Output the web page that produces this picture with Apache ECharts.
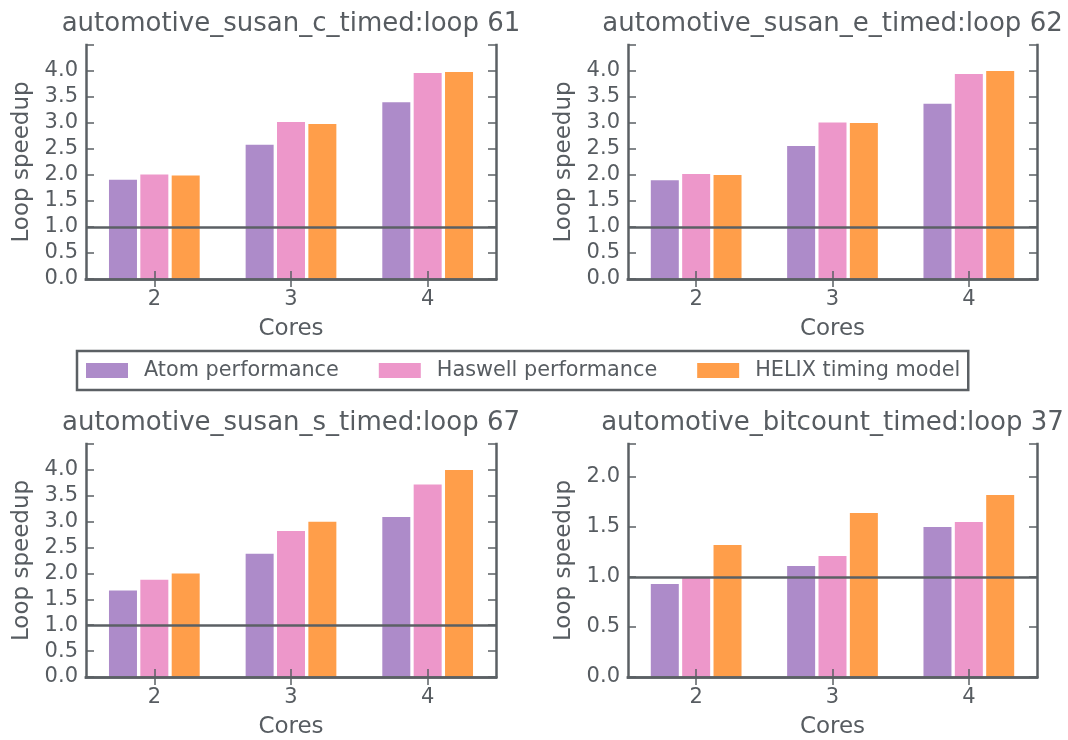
<!DOCTYPE html>
<html>
<head>
<meta charset="utf-8">
<script src="https://cdn.jsdelivr.net/npm/echarts@6/dist/echarts.min.js"></script>
<style>
  html, body { margin: 0; padding: 0; background: #ffffff; }
  #chart { width: 1068px; height: 740px; }
</style>
</head>
<body>
<div id="chart"></div>
<script>
// Category labels and series names
const cores = ['2', '3', '4'];
const seriesNames = ['Atom performance', 'Haswell performance', 'HELIX timing model'];
const panelTitles = [
  'automotive_susan_c_timed:loop 61',
  'automotive_susan_e_timed:loop 62',
  'automotive_susan_s_timed:loop 67',
  'automotive_bitcount_timed:loop 37'
];
const yTickLabels4 = ['0.0', '0.5', '1.0', '1.5', '2.0', '2.5', '3.0', '3.5', '4.0'];
const yTickLabels2 = ['0.0', '0.5', '1.0', '1.5', '2.0'];

// Loop speedup per core count
const susanCAtom    = [1.91, 2.58, 3.40];
const susanCHaswell = [2.01, 3.02, 3.96];
const susanCHelix   = [1.99, 2.98, 3.98];

const susanEAtom    = [1.90, 2.56, 3.37];
const susanEHaswell = [2.02, 3.01, 3.94];
const susanEHelix   = [2.00, 3.00, 4.00];

const susanSAtom    = [1.67, 2.38, 3.09];
const susanSHaswell = [1.88, 2.82, 3.72];
const susanSHelix   = [2.00, 3.00, 4.00];

const bitcountAtom    = [0.93, 1.11, 1.50];
const bitcountHaswell = [1.00, 1.21, 1.55];
const bitcountHelix   = [1.32, 1.64, 1.82];

const baseline = 1.0;

const panelData = [
  [susanCAtom, susanCHaswell, susanCHelix],
  [susanEAtom, susanEHaswell, susanEHelix],
  [susanSAtom, susanSHaswell, susanSHelix],
  [bitcountAtom, bitcountHaswell, bitcountHelix]
];
const panelTicks = [yTickLabels4, yTickLabels4, yTickLabels4, yTickLabels2];

// Layout and styling
const FONT = 'DejaVu Sans';
const INK = '#575c61';
const FRAME = '#5b6064';
const COLORS = ['#ad8bc9', '#ed97ca', '#ff9e4a'];
const panels = [
  { left: 86,  top: 45,  width: 410, height: 234, yMax: 4.5 },
  { left: 628, top: 45,  width: 409, height: 234, yMax: 4.5 },
  { left: 86,  top: 444, width: 410, height: 234, yMax: 4.5 },
  { left: 628, top: 444, width: 409, height: 233, yMax: 2.33 }
];

const grid = [], xAxis = [], yAxis = [], series = [], graphic = [];
const frameLine = { show: true, lineStyle: { color: FRAME, width: 2.5, cap: 'square' } };
const innerTick = { show: true, inside: true, length: 8, lineStyle: { color: FRAME, width: 1.5 } };

panels.forEach((p, i) => {
  grid.push({ left: p.left, top: p.top, width: p.width, height: p.height, containLabel: false });
  const ticks = panelTicks[i];
  const tickMax = parseFloat(ticks[ticks.length - 1]);

  // bottom and top category axes
  xAxis.push({
    type: 'category', gridIndex: i, data: cores, position: 'bottom', z: 5,
    axisLine: frameLine,
    axisTick: Object.assign({ alignWithLabel: true }, innerTick),
    axisLabel: { color: INK, fontFamily: FONT, fontSize: 21, margin: 10 },
    name: 'Cores', nameLocation: 'middle', nameGap: 39,
    nameTextStyle: { color: INK, fontFamily: FONT, fontSize: 23 }
  });
  xAxis.push({
    type: 'category', gridIndex: i, data: cores, position: 'top', z: 5,
    axisLine: frameLine,
    axisTick: Object.assign({ alignWithLabel: true }, innerTick),
    axisLabel: { show: false }
  });

  // left and right value axes
  const valueAxis = {
    type: 'value', gridIndex: i, min: 0, max: p.yMax, interval: 0.5, z: 5,
    splitLine: { show: false },
    axisLine: frameLine,
    axisTick: innerTick
  };
  yAxis.push(Object.assign({}, valueAxis, {
    position: 'left',
    axisLabel: {
      color: INK, fontFamily: FONT, fontSize: 21, margin: 8,
      formatter: v => (v <= tickMax + 1e-9 ? ticks[Math.round(v * 2)] : '')
    },
    name: 'Loop speedup', nameLocation: 'middle', nameGap: 52,
    nameTextStyle: { color: INK, fontFamily: FONT, fontSize: 23 }
  }));
  yAxis.push(Object.assign({}, valueAxis, {
    position: 'right',
    axisLabel: { show: false }
  }));

  panelData[i].forEach((vals, k) => {
    const s = {
      type: 'bar', name: seriesNames[k], xAxisIndex: 2 * i, yAxisIndex: 2 * i,
      data: vals, barWidth: 28, barGap: '12%',
      itemStyle: { color: COLORS[k] },
      emphasis: { disabled: true }
    };
    if (k === 0) {
      s.markLine = {
        silent: true, symbol: 'none', label: { show: false },
        lineStyle: { color: FRAME, width: 2.5, type: 'solid' },
        data: [{ yAxis: baseline }]
      };
    }
    series.push(s);
  });

  graphic.push({
    type: 'text', x: p.left + p.width / 2, y: p.top - 21,
    style: {
      text: panelTitles[i], fill: INK, font: '26px "' + FONT + '"',
      align: 'center', verticalAlign: 'middle', textAlign: 'center', textVerticalAlign: 'middle'
    }
  });
});

const chart = echarts.init(document.getElementById('chart'), null, { renderer: 'canvas' });
chart.setOption({
  backgroundColor: '#ffffff',
  animation: false,
  color: COLORS,
  textStyle: { fontFamily: FONT, color: INK },
  grid, xAxis, yAxis, series, graphic,
  legend: {
    data: seriesNames,
    left: 77, top: 351,
    orient: 'horizontal',
    icon: 'rect', itemWidth: 42, itemHeight: 15, itemGap: 40,
    padding: [9, 8, 9, 9],
    borderColor: FRAME, borderWidth: 2.5, borderRadius: 0,
    selectedMode: false,
    textStyle: { color: INK, fontFamily: FONT, fontSize: 20.8, padding: [0, 0, 0, 11] }
  }
});
</script>
</body>
</html>
